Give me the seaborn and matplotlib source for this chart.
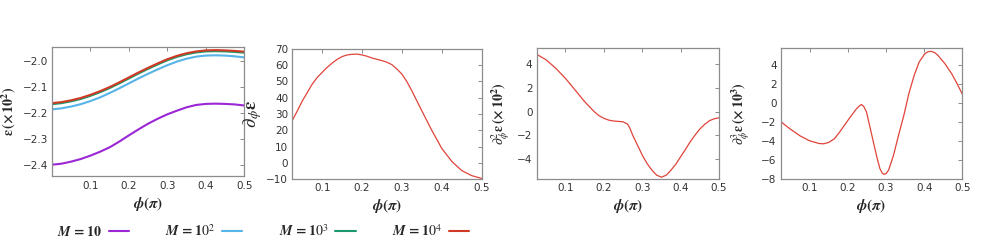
import numpy as np
import pandas as pd
import matplotlib
matplotlib.use("Agg")
import matplotlib.pyplot as plt
import seaborn as sns
from matplotlib.lines import Line2D

# ---------------- data ----------------
phi1 = [0.0, 0.025, 0.05, 0.075, 0.1, 0.125, 0.15, 0.175, 0.2, 0.225, 0.25,
        0.275, 0.3, 0.325, 0.35, 0.375, 0.4, 0.425, 0.45, 0.475, 0.5]
eps_M10 = [-2.400, -2.396, -2.388, -2.378, -2.365, -2.350, -2.333, -2.311, -2.287, -2.264, -2.242,
           -2.223, -2.206, -2.192, -2.179, -2.170, -2.166, -2.165, -2.166, -2.168, -2.172]
eps_M100 = [-2.187, -2.183, -2.176, -2.167, -2.155, -2.141, -2.124, -2.106, -2.087, -2.068, -2.050,
            -2.033, -2.017, -2.003, -1.992, -1.984, -1.980, -1.979, -1.980, -1.983, -1.987]
eps_M1000 = [-2.167, -2.163, -2.156, -2.147, -2.135, -2.121, -2.105, -2.087, -2.068, -2.049, -2.031,
             -2.014, -1.998, -1.985, -1.975, -1.968, -1.964, -1.963, -1.964, -1.966, -1.969]
eps_M10000 = [-2.163, -2.159, -2.152, -2.143, -2.131, -2.117, -2.101, -2.083, -2.064, -2.045, -2.027,
              -2.010, -1.994, -1.981, -1.971, -1.964, -1.960, -1.959, -1.960, -1.962, -1.965]
series_labels = [r"$\boldsymbol{M\,=\,10}$", r"$\boldsymbol{M\,=\,10^2}$",
                 r"$\boldsymbol{M\,=\,10^3}$", r"$\boldsymbol{M\,=\,10^4}$"]
series_colors = ["#9b26d6", "#56b4e9", "#1a9a6c", "#d03a25"]

phi2 = [0.025, 0.0375, 0.05, 0.0625, 0.075, 0.0875, 0.1, 0.1125, 0.125, 0.1375, 0.15,
        0.1625, 0.175, 0.1875, 0.2, 0.2125, 0.225, 0.2375, 0.25, 0.2625, 0.275, 0.2875,
        0.3, 0.3125, 0.325, 0.3375, 0.35, 0.375, 0.4, 0.425, 0.45, 0.475, 0.5]
d1 = [26.1, 31.9, 38.0, 43.2, 48.4, 52.5, 55.6, 58.7, 61.3, 63.6, 65.3,
      66.3, 66.7, 66.8, 66.3, 65.5, 64.4, 63.6, 62.8, 61.8, 60.3, 57.6,
      54.5, 49.8, 44.2, 38.0, 31.9, 19.9, 8.8, 0.9, -4.8, -7.9, -9.6]

phi3 = [0.025, 0.05, 0.075, 0.1, 0.125, 0.15, 0.175, 0.1875, 0.2, 0.2125, 0.225, 0.2375,
        0.25, 0.262, 0.268, 0.275, 0.2875, 0.3, 0.3125, 0.325, 0.3375, 0.35, 0.3625,
        0.375, 0.3875, 0.4, 0.4125, 0.425, 0.4375, 0.45, 0.4625, 0.475, 0.4875, 0.5]
d2 = [4.86, 4.38, 3.67, 2.82, 1.84, 0.85, 0.0, -0.34, -0.56, -0.71, -0.79, -0.82,
      -0.86, -1.05, -1.41, -1.98, -2.82, -3.67, -4.38, -4.94, -5.37, -5.54, -5.37,
      -4.94, -4.44, -3.81, -3.19, -2.54, -1.98, -1.47, -1.07, -0.76, -0.60, -0.51]

phi4 = [0.025, 0.05, 0.075, 0.1, 0.125, 0.137, 0.15, 0.165, 0.178, 0.19, 0.204, 0.222,
        0.23, 0.236, 0.242, 0.249, 0.258, 0.267, 0.276, 0.284, 0.29, 0.295, 0.301, 0.307,
        0.32, 0.333, 0.347, 0.36, 0.374, 0.387, 0.402, 0.41, 0.418, 0.427, 0.436, 0.454,
        0.472, 0.486, 0.5]
d3 = [-1.96, -2.74, -3.44, -3.96, -4.25, -4.28, -4.14, -3.75, -3.09, -2.40, -1.61, -0.63,
      -0.30, -0.14, -0.35, -0.91, -2.49, -4.07, -5.65, -6.88, -7.35, -7.51, -7.40, -7.05,
      -5.47, -3.37, -1.26, 1.02, 2.95, 4.35, 5.23, 5.42, 5.47, 5.35, 5.05, 4.18,
      3.12, 2.07, 0.95]

xticks = [0.1, 0.2, 0.3, 0.4, 0.5]
xticklabels = ["0.1", "0.2", "0.3", "0.4", "0.5"]

# ---------------- style ----------------
sns.set_theme(style="white")
plt.rcParams["font.family"] = ["DejaVu Sans"]
plt.rcParams["mathtext.fontset"] = "stix"
plt.rcParams["axes.edgecolor"] = "#8c8c8c"
plt.rcParams["axes.linewidth"] = 0.9

fig = plt.figure(figsize=(9.81, 2.41), dpi=100)

boxes = [(0.053, 0.268, 0.196, 0.537),
         (0.298, 0.257, 0.193, 0.540),
         (0.547, 0.257, 0.186, 0.543),
         (0.796, 0.257, 0.185, 0.545)]
axes = [fig.add_axes(b) for b in boxes]

df1 = pd.DataFrame({
    "phi": phi1 * 4,
    "eps": eps_M10 + eps_M100 + eps_M1000 + eps_M10000,
    "M": sum([[lab] * len(phi1) for lab in series_labels], []),
})
sns.lineplot(data=df1, x="phi", y="eps", hue="M", palette=series_colors,
             hue_order=series_labels, ax=axes[0], linewidth=1.5, legend=False)
sns.lineplot(x=phi2, y=d1, ax=axes[1], color="#e0443a", linewidth=0.9)
sns.lineplot(x=phi3, y=d2, ax=axes[2], color="#e0443a", linewidth=0.9)
sns.lineplot(x=phi4, y=d3, ax=axes[3], color="#e0443a", linewidth=0.9)

axes[0].set_xlim(0.0, 0.5)
axes[0].set_ylim(-2.445, -1.947)
axes[0].set_yticks([-2.0, -2.1, -2.2, -2.3, -2.4])
axes[1].set_xlim(0.025, 0.5)
axes[1].set_ylim(-10, 70)
axes[1].set_yticks([-10, 0, 10, 20, 30, 40, 50, 60, 70])
axes[2].set_xlim(0.025, 0.5)
axes[2].set_ylim(-5.7, 5.37)
axes[2].set_yticks([-4, -2, 0, 2, 4])
axes[3].set_xlim(0.025, 0.5)
axes[3].set_ylim(-8.0, 5.85)
axes[3].set_yticks([-8, -6, -4, -2, 0, 2, 4])

ylabels = [r"$\boldsymbol{\varepsilon}\,\mathbf{(\times\,10^2)}$",
           r"$\boldsymbol{\partial_{\phi}\varepsilon}$",
           r"$\boldsymbol{\partial^2_{\phi}\varepsilon}\,\mathbf{(\times\,10^2)}$",
           r"$\boldsymbol{\partial^3_{\phi}\varepsilon}\,\mathbf{(\times\,10^3)}$"]
ylabel_x = [-0.176, -0.150, -0.135, -0.157]
ylabel_size = [10, 13.5, 10, 10]
for ax, yl, lx, ls in zip(axes, ylabels, ylabel_x, ylabel_size):
    ax.set_xticks(xticks)
    ax.set_xticklabels(xticklabels)
    ax.tick_params(direction="in", top=True, right=True, length=3, width=0.6,
                   labelsize=7.5, labelcolor="#333333", color="#777777", pad=3)
    ax.set_xlabel(r"$\boldsymbol{\phi}\mathbf{(}\boldsymbol{\pi}\mathbf{)}$", fontsize=11, labelpad=3)
    ax.set_ylabel(yl, fontsize=ls)
    ax.yaxis.set_label_coords(lx, 0.5)
    for s in ax.spines.values():
        s.set_color("#8c8c8c")

handles = [Line2D([0], [0], color=c, linewidth=1.5) for c in series_colors]
fig.legend(handles, series_labels, loc="center", bbox_to_anchor=(0.268, 0.041),
           ncol=4, frameon=False, markerfirst=False, fontsize=10,
           handlelength=1.45, columnspacing=2.6, handletextpad=0.5)

fig.savefig("out.png", dpi=100)
